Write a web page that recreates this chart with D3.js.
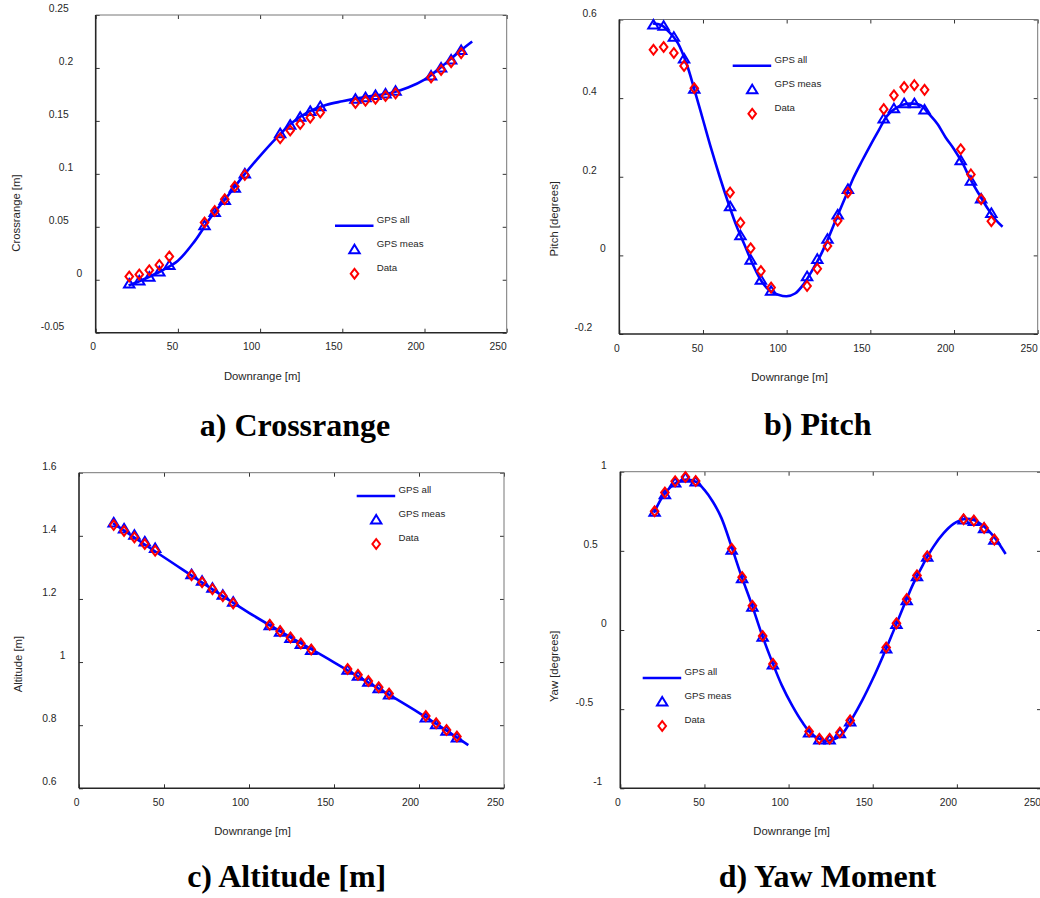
<!DOCTYPE html>
<html>
<head>
<meta charset="utf-8">
<script src="https://cdn.jsdelivr.net/npm/d3@7/dist/d3.min.js"></script>
<style>
body { margin: 0; background: #fff; }
svg text { font-family: "Liberation Sans", Arial, sans-serif; fill: #262626; }
</style>
</head>
<body>
<div id="fig"></div>
<script>
// downrange position of each measurement [m]
var downrange = [20.4, 26.5, 32.6, 38.7, 44.8, 66.2, 72.4, 78.5, 84.6, 90.7,
    112.2, 118.3, 124.4, 130.5, 136.6, 158, 164.1, 170.2, 176.3, 182.4,
    204, 210.1, 216.2, 222.3];

var xTicks = [0, 50, 100, 150, 200, 250];

// a) crossrange
var crossTicks = [-0.05, 0, 0.05, 0.1, 0.15, 0.2, 0.25];
var crossMeas = [-0.004, -0.001, 0.0025, 0.0075, 0.0135, 0.051, 0.0635, 0.075, 0.0865, 0.1,
    0.138, 0.146, 0.1535, 0.159, 0.1635, 0.1705, 0.172, 0.174, 0.1755, 0.178,
    0.1925, 0.2, 0.2075, 0.2165];
var crossData = [0.003, 0.005, 0.009, 0.014, 0.022, 0.054, 0.065, 0.076, 0.088, 0.099,
    0.1336, 0.141, 0.147, 0.153, 0.158, 0.167, 0.169, 0.171, 0.1735, 0.176,
    0.191, 0.198, 0.2055, 0.214];
var crossAllX = [20, 30, 40, 50, 60, 70, 80, 90, 100, 110, 120, 130, 140, 150, 160, 170, 180, 190, 200, 210, 220, 229];
var crossAllY = [-0.0055, 0.001, 0.0085, 0.018, 0.036, 0.059, 0.0785, 0.0985, 0.117, 0.134, 0.149, 0.159,
    0.165, 0.1685, 0.1715, 0.174, 0.1765, 0.1815, 0.189, 0.2007, 0.214, 0.225];

// b) pitch
var pitchTicks = [-0.2, 0, 0.2, 0.4, 0.6];
var pitchMeas = [0.586, 0.583, 0.555, 0.5, 0.423, 0.124, 0.05, -0.012, -0.063, -0.091,
    -0.054, -0.01, 0.041, 0.103, 0.168, 0.347, 0.373, 0.386, 0.386, 0.37,
    0.241, 0.189, 0.1435, 0.107];
var pitchData = [0.523, 0.53, 0.515, 0.482, 0.425, 0.16, 0.083, 0.018, -0.04, -0.082,
    -0.078, -0.034, 0.024, 0.088, 0.16, 0.372, 0.407, 0.428, 0.433, 0.421,
    0.27, 0.206, 0.143, 0.087];
var pitchAllX = [20, 25, 30, 35, 40, 45, 50, 55, 60, 65, 70, 75, 80, 85, 90, 95, 100, 105, 110, 115,
    120, 125, 130, 135, 140, 145, 150, 155, 160, 165, 170, 175, 180, 185, 190, 195, 200, 205,
    210, 215, 220, 225, 229];
var pitchAllY = [0.59, 0.586, 0.567, 0.54, 0.49, 0.42, 0.345, 0.27, 0.2, 0.135, 0.075, 0.025, -0.025,
    -0.066, -0.09, -0.1, -0.104, -0.097, -0.074, -0.04, -0.002, 0.045, 0.097, 0.147, 0.198, 0.24,
    0.28, 0.318, 0.355, 0.374, 0.384, 0.386, 0.382, 0.36, 0.335, 0.3, 0.27, 0.235,
    0.192, 0.155, 0.12, 0.09, 0.073];

// c) altitude
var altTicks = [0.6, 0.8, 1, 1.2, 1.4, 1.6];
var altMeas = [1.441, 1.422, 1.402, 1.381, 1.36, 1.277, 1.256, 1.234, 1.212, 1.19,
    1.115, 1.095, 1.075, 1.056, 1.037, 0.974, 0.955, 0.936, 0.916, 0.896,
    0.823, 0.802, 0.781, 0.76];
var altData = [1.434, 1.415, 1.395, 1.374, 1.353, 1.275, 1.253, 1.231, 1.209, 1.186,
    1.118, 1.098, 1.078, 1.059, 1.04, 0.978, 0.96, 0.94, 0.92, 0.9,
    0.829, 0.806, 0.785, 0.764];
var altAllX = [20, 50, 100, 150, 200, 229];
var altAllY = [1.44, 1.332, 1.156, 0.999, 0.839, 0.737];

// d) yaw
var yawTicks = [-1, -0.5, 0, 0.5, 1];
var yawMeas = [0.744, 0.855, 0.929, 0.96, 0.935, 0.505, 0.325, 0.145, -0.045, -0.22,
    -0.65, -0.695, -0.695, -0.655, -0.58, -0.12, 0.035, 0.185, 0.337, 0.46,
    0.695, 0.686, 0.641, 0.567];
var yawData = [0.75, 0.868, 0.939, 0.966, 0.941, 0.513, 0.334, 0.153, -0.038, -0.214,
    -0.641, -0.687, -0.687, -0.647, -0.571, -0.111, 0.042, 0.195, 0.345, 0.466,
    0.7, 0.691, 0.645, 0.571];
var yawAllX = [20, 25, 30, 35, 40, 45, 50, 55, 60, 66, 72, 78, 84, 90, 96, 102, 108, 114, 120, 126,
    132, 138, 144, 150, 156, 162, 168, 174, 180, 186, 192, 198, 204, 210, 216, 222, 229];
var yawAllY = [0.74, 0.84, 0.905, 0.94, 0.95, 0.935, 0.885, 0.81, 0.71, 0.53, 0.34, 0.165, -0.025,
    -0.195, -0.35, -0.475, -0.58, -0.66, -0.695, -0.695, -0.655, -0.555, -0.44, -0.31, -0.167,
    -0.015, 0.14, 0.29, 0.415, 0.525, 0.61, 0.67, 0.7, 0.695, 0.655, 0.59, 0.48];

var legendLabels = ['GPS all', 'GPS meas', 'Data'];

var svg = d3.select('#fig')
    .append('svg')
    .attr('width', 1040)
    .attr('height', 898);

var triPath = 'M0,-5L5.2,3.6L-5.2,3.6Z';
var diaPath = 'M0,-4.9L3.8,0L0,4.9L-3.8,0Z';

function fmt(v) {
    return String(+v.toFixed(2));
}

function drawPanel(p) {
    var x = d3.scaleLinear().domain([0, 250]).range([p.left, p.right]);
    var y = d3.scaleLinear().domain([p.yTicks[0], p.yTicks[p.yTicks.length - 1]]).range([p.bottom, p.top]);
    var g = svg.append('g');

    // inward ticks on all four sides
    var ax = [
        g.append('g').attr('transform', 'translate(0,' + p.bottom + ')')
            .call(d3.axisBottom(x).tickValues(xTicks).tickSize(-4).tickFormat(fmt)),
        g.append('g').attr('transform', 'translate(0,' + p.top + ')')
            .call(d3.axisTop(x).tickValues(xTicks).tickSize(-4).tickFormat('')),
        g.append('g').attr('transform', 'translate(' + p.left + ',0)')
            .call(d3.axisLeft(y).tickValues(p.yTicks).tickSize(-4).tickFormat(fmt)),
        g.append('g').attr('transform', 'translate(' + p.right + ',0)')
            .call(d3.axisRight(y).tickValues(p.yTicks).tickSize(-4).tickFormat(''))
    ];
    ax.forEach(function (a) {
        a.select('.domain').remove();
        a.selectAll('line').attr('stroke', '#333');
    });

    ax[0].selectAll('text')
        .attr('x', function (d) { return -3 * fmt(d).length; })
        .attr('y', 14)
        .attr('dy', '0.35em')
        .style('font-size', '10.3px');
    ax[2].selectAll('text')
        .attr('x', function (d) { return -9 - 4.5 * fmt(d).length; })
        .attr('y', -7)
        .attr('dy', '0.35em')
        .style('font-size', '10.3px');

    // box: dark left/bottom, light top/right
    g.append('line').attr('x1', p.left).attr('x2', p.right).attr('y1', p.top).attr('y2', p.top)
        .attr('stroke', '#777').attr('stroke-width', 1);
    g.append('line').attr('x1', p.right).attr('x2', p.right).attr('y1', p.top).attr('y2', p.bottom)
        .attr('stroke', '#777').attr('stroke-width', 1);
    g.append('line').attr('x1', p.left).attr('x2', p.right).attr('y1', p.bottom).attr('y2', p.bottom)
        .attr('stroke', '#262626').attr('stroke-width', 1.6);
    g.append('line').attr('x1', p.left).attr('x2', p.left).attr('y1', p.top).attr('y2', p.bottom)
        .attr('stroke', '#262626').attr('stroke-width', 1.6);

    // axis titles
    var xTitle = 'Downrange [m]';
    g.append('text')
        .attr('x', (p.left + p.right) / 2 - 3 * xTitle.length)
        .attr('y', p.bottom + 43)
        .attr('dy', '0.35em')
        .attr('text-anchor', 'middle')
        .style('font-size', '11.3px')
        .text(xTitle);
    g.append('text')
        .attr('transform', 'translate(' + p.yTitleX + ',' + ((p.top + p.bottom) / 2 + 2.8 * p.yTitle.length) + ') rotate(-90)')
        .attr('dy', '0.35em')
        .attr('text-anchor', 'middle')
        .style('font-size', '11.3px')
        .text(p.yTitle);

    // GPS all line
    var line = d3.line()
        .x(function (d) { return x(d[0]); })
        .y(function (d) { return y(d[1]); })
        .curve(d3.curveCatmullRom.alpha(0.5));
    g.append('path')
        .datum(d3.zip(p.allX, p.allY))
        .attr('d', line)
        .attr('fill', 'none')
        .attr('stroke', '#0000ff')
        .attr('stroke-width', 2.6);

    // GPS meas triangles
    g.selectAll('path.meas')
        .data(d3.zip(downrange, p.meas)).enter()
        .append('path')
        .attr('class', 'meas')
        .attr('d', triPath)
        .attr('transform', function (d) { return 'translate(' + x(d[0]) + ',' + y(d[1]) + ')'; })
        .attr('fill', 'none')
        .attr('stroke', '#0000ff')
        .attr('stroke-width', 2);

    // data diamonds
    g.selectAll('path.data')
        .data(d3.zip(downrange, p.data)).enter()
        .append('path')
        .attr('class', 'data')
        .attr('d', diaPath)
        .attr('transform', function (d) { return 'translate(' + x(d[0]) + ',' + y(d[1]) + ')'; })
        .attr('fill', 'none')
        .attr('stroke', '#ff0000')
        .attr('stroke-width', 2);

    // legend
    var lg = g.append('g').attr('transform', 'translate(' + p.legend[0] + ',' + p.legend[1] + ')');
    lg.append('line').attr('x1', 0).attr('x2', 38.5).attr('y1', 0).attr('y2', 0)
        .attr('stroke', '#0000ff').attr('stroke-width', 2.6);
    lg.append('path').attr('d', triPath).attr('transform', 'translate(19.5,24)')
        .attr('fill', 'none').attr('stroke', '#0000ff').attr('stroke-width', 2);
    lg.append('path').attr('d', diaPath).attr('transform', 'translate(19.5,48)')
        .attr('fill', 'none').attr('stroke', '#ff0000').attr('stroke-width', 2);
    lg.selectAll('text')
        .data(legendLabels).enter()
        .append('text')
        .attr('x', 41.7)
        .attr('y', function (d, i) { return i * 24 - 6; })
        .attr('dy', '0.35em')
        .style('font-size', '9.7px')
        .text(function (d) { return d; });

    // caption
    svg.append('text')
        .attr('x', p.caption[0])
        .attr('y', p.caption[1])
        .attr('text-anchor', 'middle')
        .style('font-family', '"Liberation Serif", "Times New Roman", serif')
        .style('font-weight', 'bold')
        .style('font-size', '32px')
        .style('fill', '#000')
        .text(p.captionText);
}

drawPanel({
    left: 95.7, right: 506.7, top: 15, bottom: 332.7,
    yTicks: crossTicks, meas: crossMeas, data: crossData, allX: crossAllX, allY: crossAllY,
    yTitle: 'Crossrange [m]', yTitleX: 16,
    legend: [335, 225.7],
    caption: [295, 436], captionText: 'a) Crossrange'
});
drawPanel({
    left: 619.3, right: 1037.7, top: 19.5, bottom: 334,
    yTicks: pitchTicks, meas: pitchMeas, data: pitchData, allX: pitchAllX, allY: pitchAllY,
    yTitle: 'Pitch [degrees]', yTitleX: 553.7,
    legend: [732.7, 65.7],
    caption: [817.7, 434.5], captionText: 'b) Pitch'
});
drawPanel({
    left: 79, right: 504, top: 472.7, bottom: 788.3,
    yTicks: altTicks, meas: altMeas, data: altData, allX: altAllX, allY: altAllY,
    yTitle: 'Altitude [m]', yTitleX: 18.3,
    legend: [356.7, 496],
    caption: [286.7, 887], captionText: 'c) Altitude [m]'
});
drawPanel({
    left: 620.3, right: 1041, top: 471.7, bottom: 788.3,
    yTicks: yawTicks, meas: yawMeas, data: yawData, allX: yawAllX, allY: yawAllY,
    yTitle: 'Yaw [degrees]', yTitleX: 553.7,
    legend: [642.7, 678],
    caption: [827.5, 887], captionText: 'd) Yaw Moment'
});
</script>
</body>
</html>
